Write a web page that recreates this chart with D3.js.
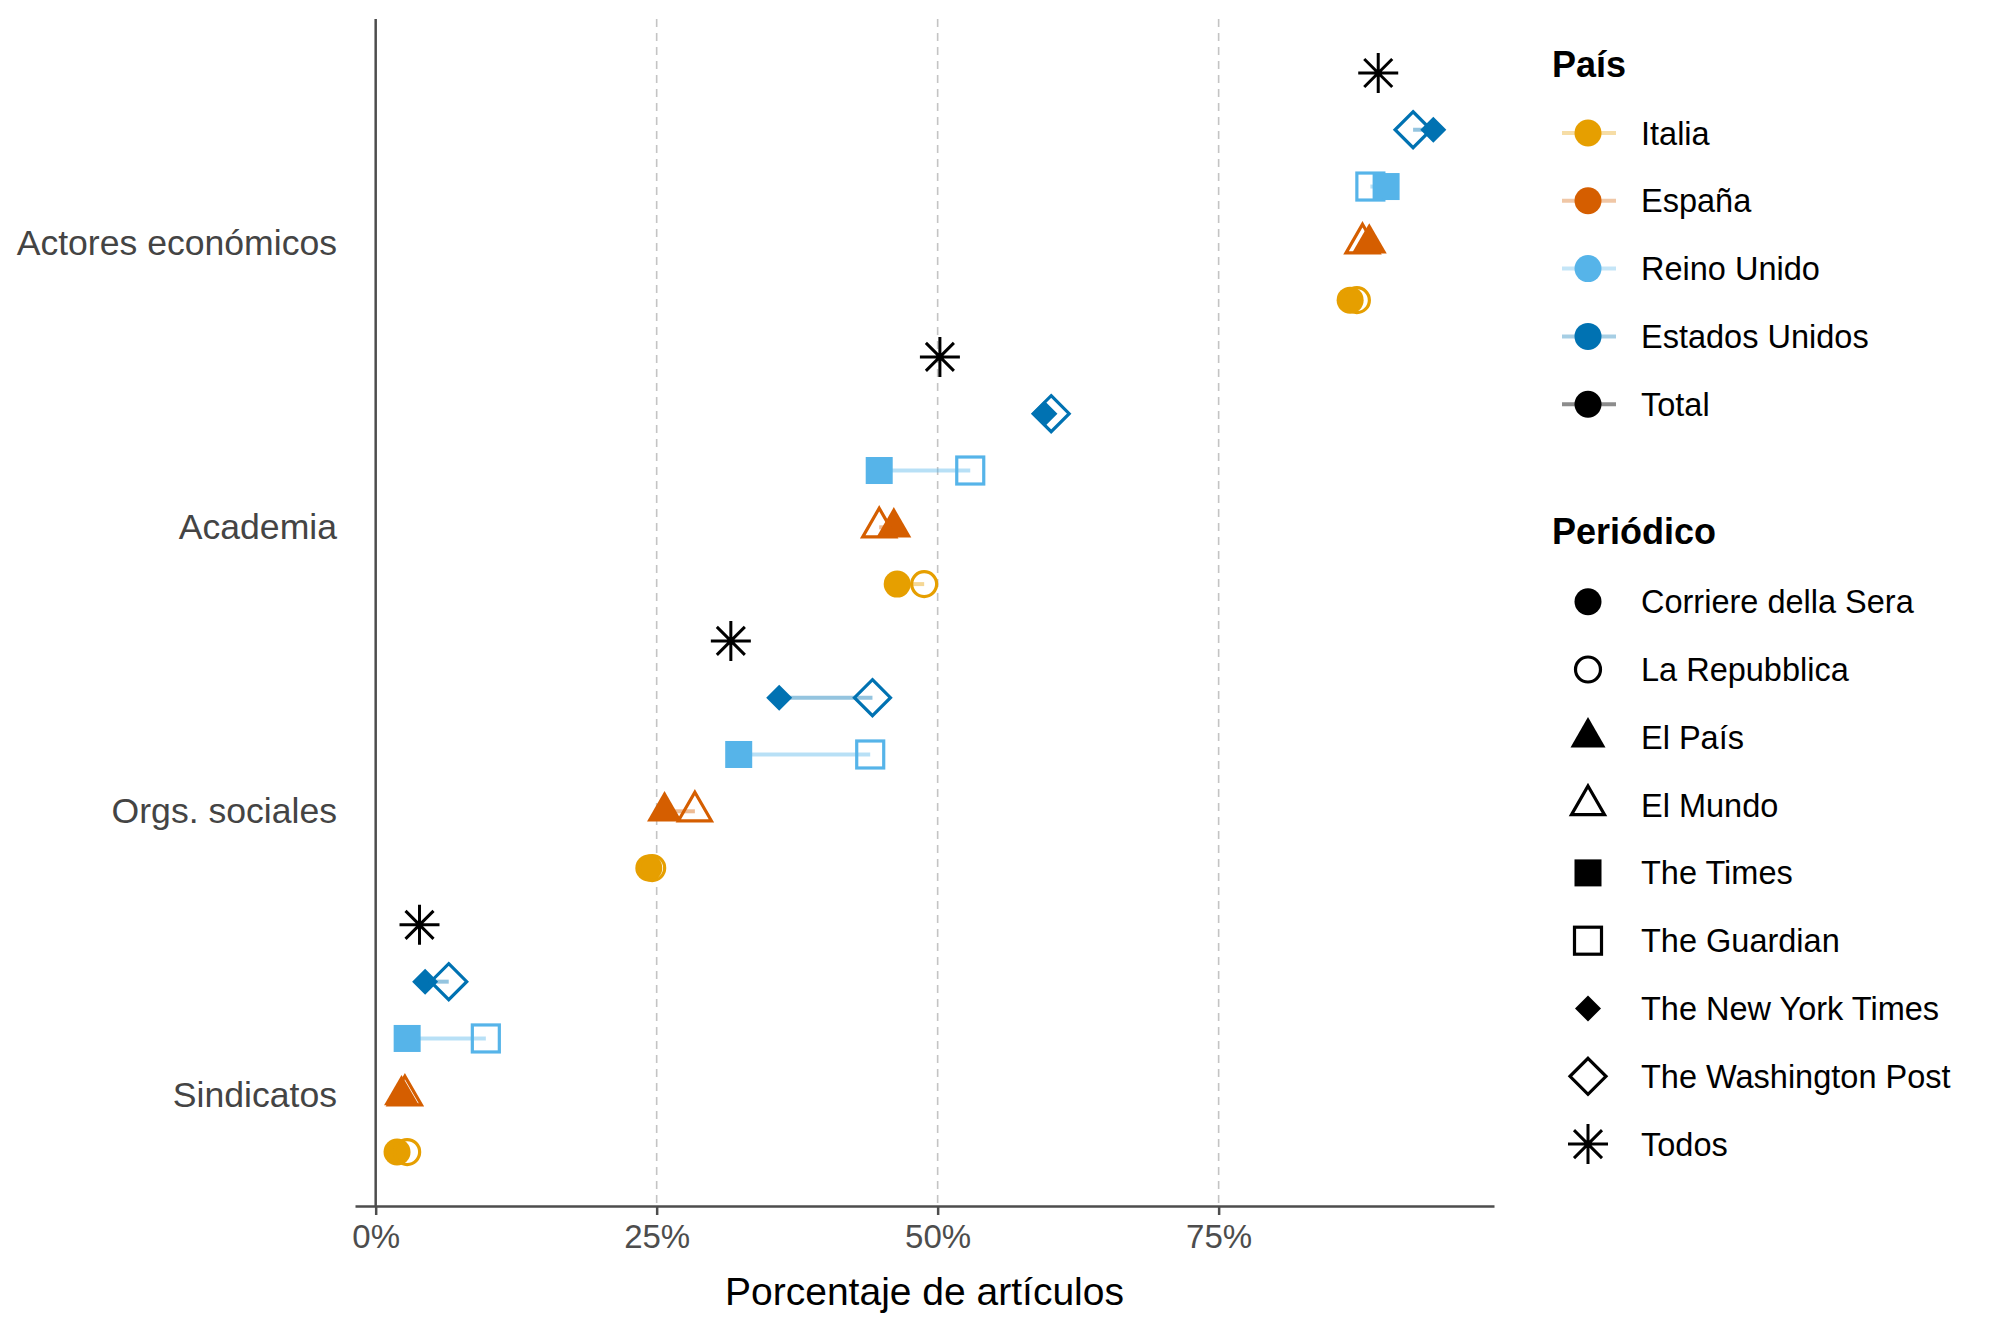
<!DOCTYPE html>
<html>
<head>
<meta charset="utf-8">
<script src="https://cdn.jsdelivr.net/npm/d3@7"></script>
<style>
  body { margin: 0; background: #fff; }
  svg text { font-family: "Liberation Sans", Arial, sans-serif; }
</style>
</head>
<body>
<div id="chart"></div>
<script>
// categories, top to bottom as shown on the axis
let categorias = ["Actores económicos", "Academia", "Orgs. sociales", "Sindicatos"];
let paises = ["Italia", "España", "Reino Unido", "Estados Unidos", "Total"];
let periodicos = ["Corriere della Sera", "La Repubblica", "El País", "El Mundo", "The Times",
    "The Guardian", "The New York Times", "The Washington Post", "Todos"];
let paisDePeriodico = ["Italia", "Italia", "España", "España", "Reino Unido",
    "Reino Unido", "Estados Unidos", "Estados Unidos", "Total"];
let xTicks = [0, 25, 50, 75];

// % of articles per category (same order as categorias)
let corriere   = [86.7, 46.4, 24.3, 1.9];
let repubblica = [87.3, 48.8, 24.6, 2.8];
let elPais     = [88.4, 46.1, 25.7, 2.3];
let elMundo    = [87.8, 44.8, 28.4, 2.6];
let times      = [89.9, 44.8, 32.3, 2.8];
let guardian   = [88.5, 52.9, 44.0, 9.8];
let nyt        = [94.1, 59.5, 35.9, 4.4];
let wapo       = [92.3, 60.1, 44.2, 6.5];
let todos      = [89.2, 50.2, 31.6, 3.9];

let valores = [corriere, repubblica, elPais, elMundo, times, guardian, nyt, wapo, todos];

let colorPais = {
    "Italia": "#E69F00", "España": "#D55E00", "Reino Unido": "#56B4E9",
    "Estados Unidos": "#0072B2", "Total": "#000000"
};
// ggplot shape per newspaper
let formaPeriodico = ["circle", "circleOpen", "triangle", "triangleOpen", "square",
    "squareOpen", "diamond", "diamondOpen", "asterisk"];

let width = 2000, height = 1334;
let panel = {left: 355, right: 1494, top: 19, bottom: 1206};

let svg = d3.select('#chart').append('svg')
    .attr('width', width)
    .attr('height', height);

let x = d3.scaleLinear().domain([-1.84, 99.5]).range([panel.left, panel.right]);
let y = d3.scaleLinear().domain([0.61, 4.79]).range([panel.bottom, panel.top]);

// category 0 (top) sits at 4, last at 1; countries dodge around it
function catPos(ci) { return categorias.length - ci; }
function rowY(ci, pais) { return y(catPos(ci) + (paises.indexOf(pais) - 1) * 0.2); }

// flatten into rows
let puntos = [];
periodicos.forEach(function(p, pi) {
    valores[pi].forEach(function(v, ci) {
        puntos.push({periodico: p, pais: paisDePeriodico[pi], forma: formaPeriodico[pi], cat: ci, valor: v});
    });
});

// gridlines
svg.append('g').selectAll('line')
    .data(xTicks.filter(function(d) { return d > 0; }))
    .enter().append('line')
    .attr('x1', function(d) { return x(d); })
    .attr('x2', function(d) { return x(d); })
    .attr('y1', panel.top)
    .attr('y2', panel.bottom)
    .attr('stroke', '#c4c4c4')
    .attr('stroke-width', 1.6)
    .attr('stroke-dasharray', '8,6');

// vertical line at zero
svg.append('line')
    .attr('x1', x(0)).attr('x2', x(0))
    .attr('y1', panel.top).attr('y2', panel.bottom)
    .attr('stroke', '#4d4d4d')
    .attr('stroke-width', 2.5);

// x axis
let xAxis = svg.append('g')
    .attr('transform', 'translate(0,' + panel.bottom + ')')
    .call(d3.axisBottom(x).tickValues(xTicks).tickSizeInner(9).tickSizeOuter(0).tickPadding(10)
        .tickFormat(function(d) { return d + '%'; }));
xAxis.select('.domain').attr('stroke', '#4d4d4d').attr('stroke-width', 2.5);
xAxis.selectAll('.tick line').attr('stroke', '#4d4d4d').attr('stroke-width', 2.5);
xAxis.selectAll('.tick text').attr('fill', '#4d4d4d').style('font-size', '33px');

// y axis labels
let yAxis = svg.append('g')
    .attr('transform', 'translate(' + panel.left + ',0)')
    .call(d3.axisLeft(y).tickValues(categorias.map(function(c, i) { return catPos(i); }))
        .tickSize(0).tickPadding(18)
        .tickFormat(function(d) { return categorias[categorias.length - d]; }));
yAxis.select('.domain').remove();
yAxis.selectAll('.tick text').attr('fill', '#444').style('font-size', '35.6px');

// axis title
svg.append('text')
    .attr('x', (panel.left + panel.right) / 2)
    .attr('y', 1305)
    .attr('text-anchor', 'middle')
    .style('font-size', '39px')
    .attr('fill', '#000')
    .text('Porcentaje de artículos');

// segments joining the two newspapers of each country
let segmentos = [];
paises.slice(0, 4).forEach(function(pais) {
    categorias.forEach(function(c, ci) {
        let pts = puntos.filter(function(d) { return d.pais === pais && d.cat === ci; });
        segmentos.push({pais: pais, cat: ci, a: pts[0].valor, b: pts[1].valor});
    });
});

svg.append('g').selectAll('line')
    .data(segmentos)
    .enter().append('line')
    .attr('x1', function(d) { return x(d.a); })
    .attr('x2', function(d) { return x(d.b); })
    .attr('y1', function(d) { return rowY(d.cat, d.pais); })
    .attr('y2', function(d) { return rowY(d.cat, d.pais); })
    .attr('stroke', function(d) { return colorPais[d.pais]; })
    .attr('stroke-opacity', 0.42)
    .attr('stroke-width', 4);

// shape drawing
function drawShape(g, forma, color) {
    let sw = 3.2;
    if (forma === 'circle') {
        g.append('circle').attr('r', 13.5).attr('fill', color);
    } else if (forma === 'circleOpen') {
        g.append('circle').attr('r', 12.5).attr('fill', 'none').attr('stroke', color).attr('stroke-width', sw);
    } else if (forma === 'triangle' || forma === 'triangleOpen') {
        let s = forma === 'triangle' ? 35 : 33;
        let h = s * Math.sqrt(3) / 2;
        let p = 'M0,' + (-2 * h / 3) + 'L' + (s / 2) + ',' + (h / 3) + 'L' + (-s / 2) + ',' + (h / 3) + 'Z';
        if (forma === 'triangle') g.append('path').attr('d', p).attr('fill', color);
        else g.append('path').attr('d', p).attr('fill', 'none').attr('stroke', color)
            .attr('stroke-width', sw).attr('stroke-linejoin', 'miter');
    } else if (forma === 'square') {
        g.append('rect').attr('x', -13.5).attr('y', -13.5).attr('width', 27).attr('height', 27).attr('fill', color);
    } else if (forma === 'squareOpen') {
        g.append('rect').attr('x', -13.5).attr('y', -13.5).attr('width', 27).attr('height', 27)
            .attr('fill', 'none').attr('stroke', color).attr('stroke-width', sw);
    } else if (forma === 'diamond') {
        g.append('path').attr('d', 'M0,-13L13,0L0,13L-13,0Z').attr('fill', color);
    } else if (forma === 'diamondOpen') {
        g.append('path').attr('d', 'M0,-18L18,0L0,18L-18,0Z')
            .attr('fill', 'none').attr('stroke', color).attr('stroke-width', sw);
    } else if (forma === 'asterisk') {
        let a = 20, b = 14;
        g.append('path')
            .attr('d', 'M' + (-a) + ',0L' + a + ',0M0,' + (-a) + 'L0,' + a +
                'M' + (-b) + ',' + (-b) + 'L' + b + ',' + b + 'M' + (-b) + ',' + b + 'L' + b + ',' + (-b))
            .attr('fill', 'none').attr('stroke', color).attr('stroke-width', 3);
    }
}

let puntosG = svg.append('g');
puntos.forEach(function(d) {
    let g = puntosG.append('g')
        .attr('transform', 'translate(' + x(d.valor) + ',' + rowY(d.cat, d.pais) + ')');
    drawShape(g, d.forma, colorPais[d.pais]);
});

// legend: País
let legX = 1552, keyX = 1588, textX = 1641, step = 67.8;
svg.append('text')
    .attr('x', legX).attr('y', 77)
    .style('font-size', '36px').style('font-weight', 'bold')
    .text('País');

let legPais = svg.append('g').selectAll('g')
    .data(paises)
    .enter().append('g')
    .attr('transform', function(d, i) { return 'translate(0,' + (133 + i * step) + ')'; });

legPais.append('line')
    .attr('x1', keyX - 26).attr('x2', keyX + 28)
    .attr('stroke', function(d) { return colorPais[d]; })
    .attr('stroke-opacity', function(d) { return d === 'Total' ? 0.45 : 0.35; })
    .attr('stroke-width', 4);
legPais.append('circle')
    .attr('cx', keyX).attr('r', 13.5)
    .attr('fill', function(d) { return colorPais[d]; });
legPais.append('text')
    .attr('x', textX).attr('y', 11.5)
    .style('font-size', '32.5px')
    .text(function(d) { return d; });

// legend: Periódico
svg.append('text')
    .attr('x', legX).attr('y', 544)
    .style('font-size', '36px').style('font-weight', 'bold')
    .text('Periódico');

let legPer = svg.append('g').selectAll('g')
    .data(periodicos)
    .enter().append('g')
    .attr('transform', function(d, i) { return 'translate(0,' + (601.7 + i * step) + ')'; });

legPer.each(function(d, i) {
    let g = d3.select(this).append('g').attr('transform', 'translate(' + keyX + ',0)');
    drawShape(g, formaPeriodico[i], '#000');
});
legPer.append('text')
    .attr('x', textX).attr('y', 11.5)
    .style('font-size', '32.5px')
    .text(function(d) { return d; });
</script>
</body>
</html>
